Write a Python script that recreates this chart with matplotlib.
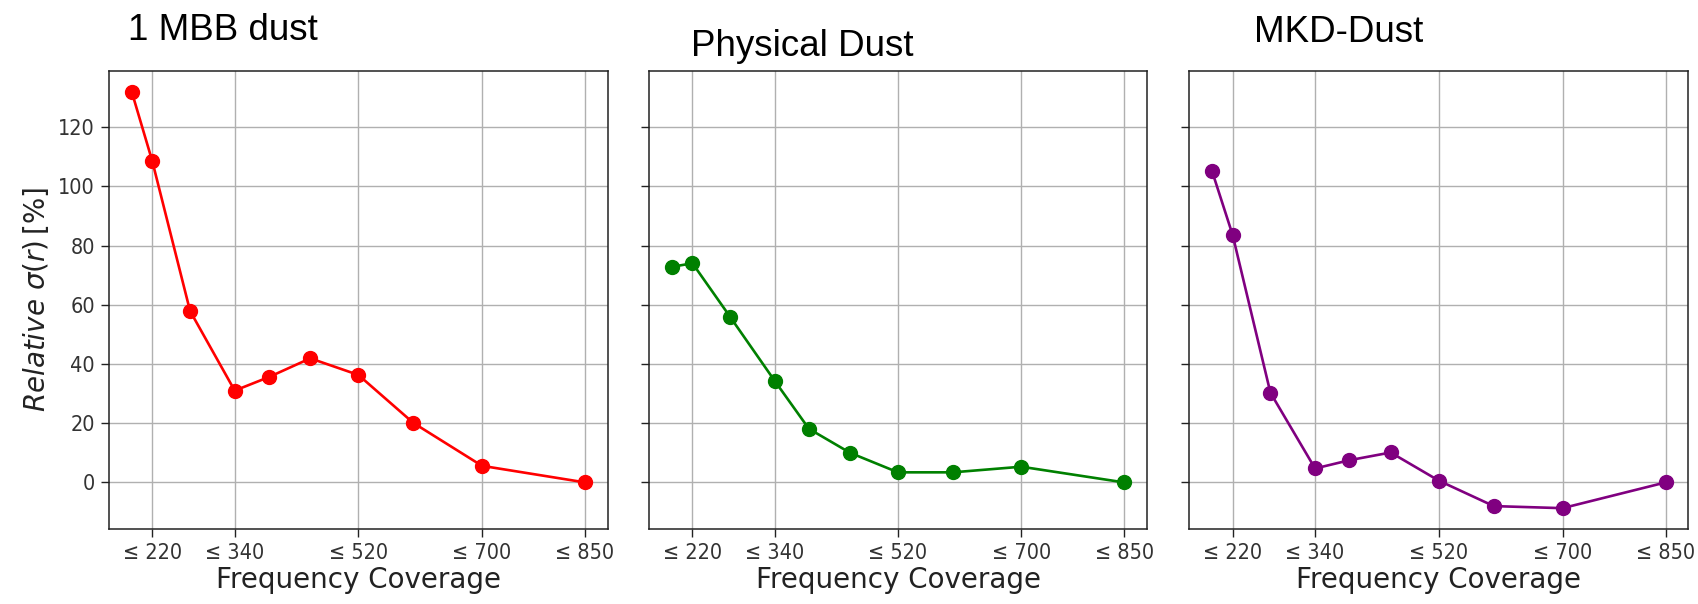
import matplotlib
matplotlib.use("Agg")
import matplotlib.pyplot as plt

freq = [190, 220, 275, 340, 390, 450, 520, 600, 700, 850]
tick_freqs = [220, 340, 520, 700, 850]
tick_labels = ["\u2264 " + str(f) for f in tick_freqs]
y_ticks = [0, 20, 40, 60, 80, 100, 120]

mbb = [132.0, 108.5, 57.9, 31.0, 35.6, 41.9, 36.3, 20.1, 5.6, 0.0]
physical = [72.8, 74.0, 55.9, 34.3, 18.1, 10.0, 3.4, 3.4, 5.3, 0.0]
mkd = [105.2, 83.6, 30.3, 4.7, 7.5, 10.1, 0.6, -8.0, -8.7, 0.0]

titles = ["1 MBB dust", "Physical Dust", "MKD-Dust"]
series = [mbb, physical, mkd]
colors = ["red", "green", "purple"]

W, H = 1698, 604
fig = plt.figure(figsize=(W / 100, H / 100), dpi=100)

# axes boxes in pixels: left, right, top, bottom
boxes = [(109, 607.7, 70.7, 529), (649.3, 1146.7, 70.7, 529), (1189.3, 1688.3, 70.7, 529)]
title_pos = [(128, 40), (690.7, 56), (1254, 42.3)]

axes = []
for i, (box, ys, c) in enumerate(zip(boxes, series, colors)):
    l, r, t, b = box
    ax = fig.add_axes([l / W, 1 - b / H, (r - l) / W, (b - t) / H],
                      sharey=axes[0] if axes else None)
    ax.plot(freq, ys, "-o", color=c, lw=1.9, ms=10)
    ax.set_xticks(tick_freqs)
    ax.set_xticklabels(tick_labels)
    ax.grid(True, color="#b0b0b0", lw=1.0)
    ax.set_axisbelow(True)
    ax.tick_params(labelsize=15.5, labelcolor="#333333", color="#222222",
                   length=6, width=1.0, pad=4)
    for lab in ax.get_xticklabels() + ax.get_yticklabels():
        lab.set_fontstretch("condensed")
    ax.set_xlabel("Frequency Coverage", fontsize=20, color="#222222", labelpad=2)
    for s in ax.spines.values():
        s.set_color("#222222")
        s.set_linewidth(1.1)
    if i == 0:
        ax.set_ylabel(r"$Relative\ \sigma(r)\,[\%]$", fontsize=20, color="#222222",
                      labelpad=5)
        ax.set_yticks(y_ticks)
    else:
        ax.tick_params(labelleft=False)
    tx, ty = title_pos[i]
    fig.text(tx / W, 1 - ty / H, titles[i], fontsize=26.5, family="Liberation Sans",
             va="baseline", ha="left", color="black")
    axes.append(ax)

fig.savefig("out.png", dpi=100)
